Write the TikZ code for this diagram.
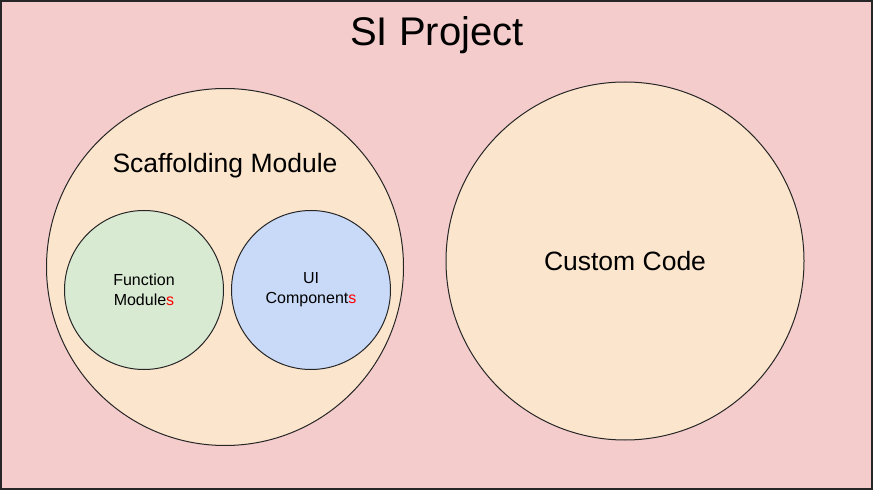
\documentclass[tikz,border=0pt]{standalone}
\usepackage{fontspec}
\setmainfont{Liberation Sans}
\definecolor{bgpink}{HTML}{F4CCCC}
\definecolor{peach}{HTML}{FCE5CD}
\definecolor{mint}{HTML}{D9EAD3}
\definecolor{sky}{HTML}{C9DAF8}
\definecolor{accent}{HTML}{FF0000}
\begin{document}
\begin{tikzpicture}[x=1pt,y=-1pt,
  outline/.style={draw=black!85,line width=1pt},
  bigcirc/.style={outline,fill=peach,circle,inner sep=0pt},
  smallcirc/.style={outline,circle,inner sep=0pt,font=\fontsize{16}{20}\selectfont,align=center}]
\useasboundingbox (0,0) rectangle (875,494);
\node[draw=black!85,line width=1.5pt,fill=bgpink,minimum width=871pt,minimum height=488pt,inner sep=0pt] (frame) at (436.5,245) {};
\node[font=\fontsize{40}{44}\selectfont] (title) at (437,35) {SI Project};
\node[bigcirc,minimum size=357pt] (scaf) at (225,267) {};
\node[font=\fontsize{26.5}{30}\selectfont] (scaflabel) at (225,166) {Scaffolding Module};
\node[bigcirc,minimum size=358pt,font=\fontsize{26.5}{30}\selectfont] (custom) at (625,261) {Custom Code};
\node[smallcirc,fill=mint,minimum size=159pt] (func) at (144,290) {Function\\Module\textcolor{accent}{s}};
\node[smallcirc,fill=sky,minimum size=159pt] (ui) at (311,290) {UI\\Component\textcolor{accent}{s}};
\end{tikzpicture}
\end{document}
